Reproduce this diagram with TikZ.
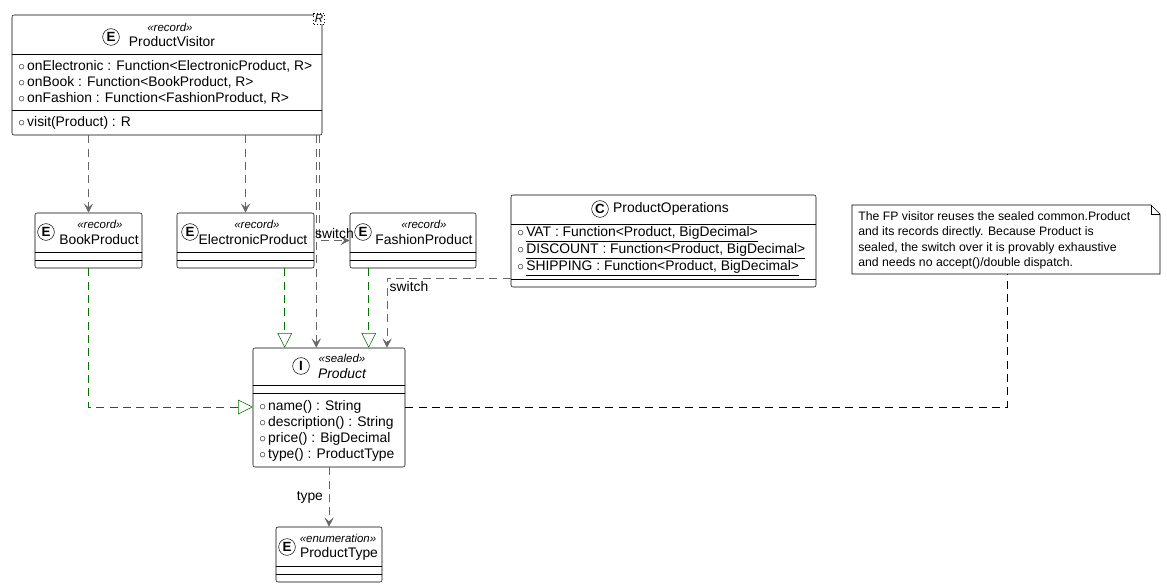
\documentclass[tikz,border=0pt]{standalone}
\usepackage{fontspec}
\setmainfont{Liberation Sans}
\usetikzlibrary{arrows.meta,positioning}

% class box: name, x1, y1, x2, y2 (pixels)
\newcommand{\umlbox}[5]{%
  \node[cls, minimum width={(#4-#2)*0.75pt}, minimum height={(#5-#3)*0.75pt}]
    (#1) at ({(#2+#4)/2},{(#3+#5)/2}) {};}
\newcommand{\sep}[3]{\draw (#1,#3) -- (#2,#3);}
\newcommand{\icon}[3]{\node[icon] at (#1,#2) {#3};}

\begin{document}
\begin{tikzpicture}[x=0.75pt,y=-0.75pt,font=\fontsize{10.4}{12}\selectfont,
  cls/.style={draw,rounded corners=1.5pt,fill=white,inner sep=0pt},
  icon/.style={draw,circle,inner sep=0pt,minimum size=12.5pt,font=\fontsize{10}{10}\rmfamily\bfseries},
  ster/.style={font=\fontsize{8.6}{9}\selectfont\itshape},
  txt/.style={anchor=north west,align=left,inner sep=0pt},
  dep/.style={draw=black!60,dash pattern=on 6pt off 4pt,-{Stealth[length=7pt,width=7pt,inset=3pt]}},
  real/.style={draw=black!55!green,dash pattern=on 6pt off 4pt,-{Triangle[open,length=11pt,width=11pt]}}]
\useasboundingbox (0,0) rectangle (1167,588);

% ProductVisitor
\umlbox{pv}{12}{15}{322}{135}
\sep{12}{322}{54}\sep{12}{322}{110}
\icon{111}{37}{E}
\node[ster] at (170,27) {«record»};
\node at (172,42) {ProductVisitor};
\node[draw,dotted,fill=white,inner sep=1pt,font=\fontsize{8.6}{8}\selectfont\itshape] (rtab) at (319,19) {R};
\node[txt] (pvattr) at (18,60) {$\circ$\,onElectronic : Function<ElectronicProduct, R>\\
  $\circ$\,onBook : Function<BookProduct, R>\\ $\circ$\,onFashion : Function<FashionProduct, R>};
\node[txt] (pvop) at (18,116) {$\circ$\,visit(Product) : R};

% records
\umlbox{book}{35}{213}{142}{268}
\sep{35}{142}{252}\sep{35}{142}{260}
\icon{46}{232}{E}
\node[ster] at (100,224) {«record»};
\node at (99,240) {BookProduct};

\umlbox{elec}{177}{213}{314}{268}
\sep{177}{314}{252}\sep{177}{314}{260}
\icon{190}{232}{E}
\node[ster] at (257,224) {«record»};
\node at (253,240) {ElectronicProduct};

\umlbox{fash}{350}{213}{476}{268}
\sep{350}{476}{252}\sep{350}{476}{260}
\icon{363}{232}{E}
\node[ster] at (424,224) {«record»};
\node at (424,240) {FashionProduct};

% ProductOperations
\umlbox{ops}{511}{195}{816}{287}
\sep{511}{816}{224}\sep{511}{816}{279}
\icon{600}{209}{C}
\node at (671,209) {ProductOperations};
\node[txt,font=\fontsize{10.4}{11.6}\selectfont] (opsattr) at (517,226) {$\circ$\,\underline{VAT : Function<Product, BigDecimal>}\\
  $\circ$\,\underline{DISCOUNT : Function<Product, BigDecimal>}\\
  $\circ$\,\underline{SHIPPING : Function<Product, BigDecimal>}};

% note
\draw[fill=white] (852,205) -- (1151,205) -- (1160,214) -- (1160,274) -- (852,274) -- cycle;
\draw (1151,205) -- (1151,214) -- (1160,214);
\node[txt,font=\fontsize{9.2}{11.6}\selectfont] (note) at (858,211) {The FP visitor reuses the sealed common.Product\\
  and its records directly. Because Product is\\ sealed, the switch over it is provably exhaustive\\
  and needs no accept()/double dispatch.};
\coordinate (notebot) at (1007,274);

% Product
\umlbox{prod}{253}{348}{405}{467}
\sep{253}{405}{385}\sep{253}{405}{393}
\icon{301}{366}{I}
\node[ster] at (342,358) {«sealed»};
\node[font=\fontsize{10.4}{12}\selectfont\itshape] at (342,374) {Product};
\node[txt] (prodop) at (259,400) {$\circ$\,name() : String\\ $\circ$\,description() : String\\
  $\circ$\,price() : BigDecimal\\ $\circ$\,type() : ProductType};

% ProductType
\umlbox{ptype}{276}{527}{382}{582}
\sep{276}{382}{566}\sep{276}{382}{574}
\icon{287}{547}{E}
\node[ster] at (338,538) {«enumeration»};
\node at (339,554) {ProductType};

% connectors
\path[dep] (pv.south -| book.north) -- (book.north);
\path[dep] (pv.south -| elec.north) -- (elec.north);
\path[dep] ([xshift=-4.5pt]pv.south east) -- ([xshift=-4.5pt]pv.south east |- prod.north);
\path[dep] ([xshift=-2.3pt]pv.south east) |- node[pos=0.75,above,inner sep=1pt] {switch} (fash.west);
\path[real] (book.south) |- (prod.west |- 0,407);
\path[real] ([xshift=81pt]elec.south west) -- ([xshift=81pt]elec.south west |- prod.north);
\path[real] ([xshift=14.25pt]fash.south west) -- ([xshift=14.25pt]fash.south west |- prod.north);
\path[dep] (ops.west |- 0,278) -- (387,278) -- (prod.north -| 387,0);
\node at (409,287) {switch};
\draw[dash pattern=on 6pt off 4pt] (prod.east |- 0,407) -| (notebot);
\path[dep] (prod.south -| ptype.north) -- node[left,xshift=-1pt] {type} (ptype.north);
\end{tikzpicture}
\end{document}
